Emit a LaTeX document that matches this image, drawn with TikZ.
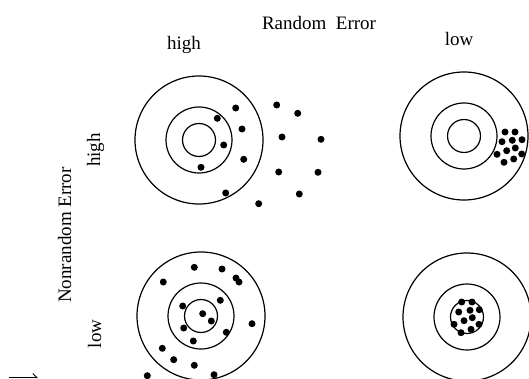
\documentclass[tikz,border=0pt]{standalone}
\usepackage{fontspec}
\setmainfont{Liberation Serif}
\usetikzlibrary{arrows.meta}
\begin{document}
\begin{tikzpicture}[x=1pt,y=-1pt,line width=1.2pt,
    lbl/.style={font=\fontsize{19}{22}\selectfont,inner sep=0pt,anchor=base}]
    \useasboundingbox (0,0) rectangle (529,379);
    % headings
    \node[lbl] (random) at (319,30) {Random\ \ Error};
    \node[lbl] (rhigh) at (184,50) {high};
    \node[lbl] (rlow) at (459,46) {low};
    \node[lbl,rotate=90] (nonrandom) at (71,235) {Nonrandom Error};
    \node[lbl,rotate=90] (nhigh) at (100,150) {high};
    \node[lbl,rotate=90] (nlow) at (101,334) {low};

    % targets
    \foreach \cx/\cy in {199/140,464/136,201/316,467/317}{
        \draw (\cx,\cy) circle[radius=64];
        \draw (\cx,\cy) circle[radius=33];
        \draw (\cx,\cy) circle[radius=16.5];
    }

    % hits: high random, high nonrandom
    \foreach \px/\py in {235.7/108,217.3/118.3,242/129,223.7/145,243.7/159.3,201/167.3,
        225.7/193,258.7/203.7,276.7/105,297.7/113.3,282/137,321/139.3,278.7/172,318/172.3,299.3/194}
        \fill (\px,\py) circle[radius=3.5];
    % hits: low random, high nonrandom
    \foreach \px/\py in {505/132,515/132,502/141.7,512.3/140.3,522/139.7,515.3/148,
        506.7/150.7,497/154.3,521.7/154,513.7/159,504/162.3}
        \fill (\px,\py) circle[radius=3.5];
    % hits: high random, low nonrandom
    \foreach \px/\py in {194.3/267.3,222/269,236/278,239/282,163.3/282,220.3/300.3,182.7/306,
        202.7/313.7,211.3/321,183.7/328,226.3/332.3,252/323.7,193.3/341,162.3/348.3,
        173.7/359.7,194.3/365.3,147.3/375.7,214/374.7}
        \fill (\px,\py) circle[radius=3.5];
    % hits: low random, low nonrandom
    \foreach \px/\py in {461.7/302,472/302,458.7/312,470/310.3,479.3/309.7,472.3/317.7,
        464/320.7,454/324.3,479/324.3,471/329.3,461/332.7}
        \fill (\px,\py) circle[radius=3.5];

    % stray arrow at the corner
    \coordinate (arrS) at (9,377.5);
    \coordinate (arrE) at (38,377.5);
    \draw[line width=1pt,-{Straight Barb[left,length=4pt,width=8pt]}] (arrS) -- (arrE);
\end{tikzpicture}
\end{document}
